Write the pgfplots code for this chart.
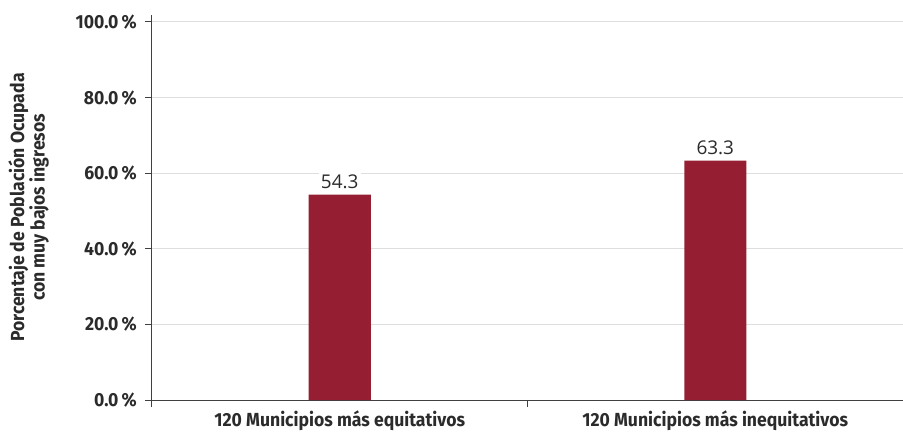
\documentclass[border=0pt]{standalone}
\usepackage{pgfplots}
\pgfplotsset{compat=1.18}
\usepackage{fontspec}
\setmainfont{Open Sans}
\newfontfamily\condfont[FakeStretch=0.93]{Fira Sans}
\definecolor{barred}{HTML}{951E32}
\definecolor{gridgray}{HTML}{DEDEDE}
\definecolor{axisgray}{HTML}{404040}
\definecolor{txt}{HTML}{2B2B2B}
\begin{document}
\begin{tikzpicture}
\useasboundingbox (-152bp,-37bp) rectangle (751bp,400bp);
\begin{axis}[
    scale only axis,
    width=751bp, height=385bp,
    at={(0,0)}, anchor=south west,
    xmin=-0.5, xmax=1.5,
    ymin=0, ymax=101.85,
    axis x line=bottom, axis y line=left,
    axis line style={draw=axisgray, line width=1bp, -},
    ytick={0,20,40,60,80,100},
    yticklabels={0.0\,\%,20.0\,\%,40.0\,\%,60.0\,\%,80.0\,\%,100.0\,\%},
    yticklabel style={font=\condfont\bfseries\fontsize{19}{22}\selectfont, text=txt, inner sep=0pt, xshift=-8bp},
    ymajorgrids,
    grid style={draw=gridgray, line width=1bp},
    tick align=outside,
    major tick length=7bp,
    tick style={draw=axisgray, line width=1bp},
    xtick={-0.5,0.5,1.5},
    xticklabels={},
    extra x ticks={0,1},
    extra x tick labels={120 Municipios más equitativos,120 Municipios más inequitativos},
    extra x tick style={major tick length=0pt},
    xticklabel style={font=\condfont\bfseries\fontsize{19}{22}\selectfont, text=txt, inner sep=0pt, yshift=-10bp, anchor=north},
    ylabel={Porcentaje de Población Ocupada\\con muy bajos ingresos},
    ylabel style={font=\condfont\bfseries\fontsize{19}{17}\selectfont, text=txt, align=center, at={(axis description cs:-0.1917,0.5)}, anchor=north, inner sep=0pt},
    clip=false,
]
\addplot[ybar, bar width=62bp, fill=barred, draw=none,
    nodes near coords,
    nodes near coords style={font=\fontsize{19}{21}\selectfont, text=txt, fill=white, inner sep=2bp, anchor=south, yshift=4bp,
      /pgf/number format/fixed, /pgf/number format/precision=1, /pgf/number format/fixed zerofill, /pgf/number format/assume math mode=true}
] coordinates {(0,54.3) (1,63.3)};
\end{axis}
\end{tikzpicture}
\end{document}
